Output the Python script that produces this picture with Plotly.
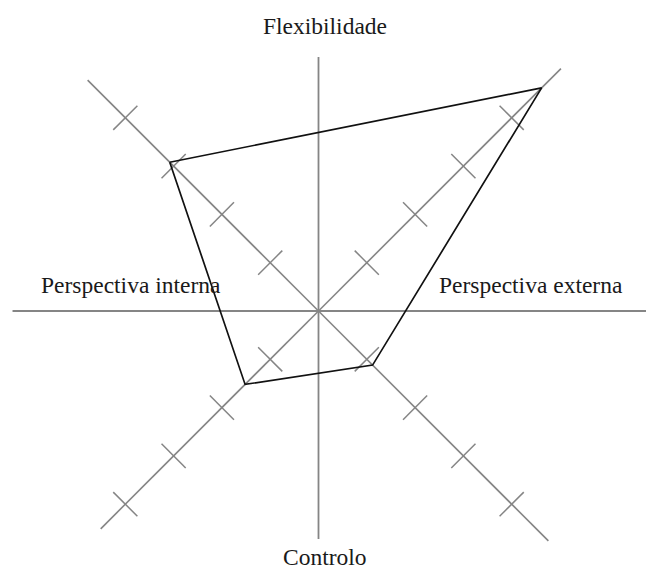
import math
import plotly.graph_objects as go

# ---- data ----
arms = ["NO", "NE", "SO", "SE"]            # diagonal arms
arm_dirs_deg = [135, 45, 225, 315]          # direction of each arm
arm_lengths = [4.78, 5.02, 4.51, 4.76]      # length of each drawn arm (tick units)
tick_values = [1, 2, 3, 4]                  # tick marks on each arm
profile_values = [3.08, 4.62, 1.52, 1.12]   # polygon vertex on each arm
axis_labels = ["Flexibilidade", "Controlo", "Perspectiva interna", "Perspectiva externa"]
vert_extent = [3.72, -3.34]                 # vertical axis top / bottom
horiz_extent = [-4.48, 5.0]                 # horizontal axis left / right

# ---- geometry helpers (page pixels; page body has an 8px margin) ----
OFF = 8
S = 68.3            # pixels per unit
CX, CY = 318.5, 311.0
W, H = 654 - OFF, 569 - OFF


def px2x(px):
    return (px - CX) / S


def px2y(py):
    return (CY - py) / S


def unit(deg):
    r = math.radians(deg)
    return math.cos(r), math.sin(r)


GRAY = "#858585"
fig = go.Figure()

# vertical and horizontal axes
fig.add_trace(go.Scatter(x=[0, 0], y=vert_extent, mode="lines",
                         line=dict(color=GRAY, width=1.8), hoverinfo="skip"))
fig.add_trace(go.Scatter(x=horiz_extent, y=[0, 0], mode="lines",
                         line=dict(color=GRAY, width=1.8), hoverinfo="skip"))

# diagonal arms
for deg, L in zip(arm_dirs_deg, arm_lengths):
    ux, uy = unit(deg)
    fig.add_trace(go.Scatter(x=[0, L * ux], y=[0, L * uy], mode="lines",
                             line=dict(color=GRAY, width=1.6), hoverinfo="skip"))

# tick marks
h = 0.25
tx, ty = [], []
for deg in arm_dirs_deg:
    ux, uy = unit(deg)
    nx, ny = -uy, ux
    for k in tick_values:
        px, py = k * ux, k * uy
        tx += [px - h * nx, px + h * nx, None]
        ty += [py - h * ny, py + h * ny, None]
fig.add_trace(go.Scatter(x=tx, y=ty, mode="lines",
                         line=dict(color=GRAY, width=1.5), hoverinfo="skip"))

# profile polygon (order NO -> NE -> SE -> SO)
order = [0, 1, 3, 2, 0]
polx, poly = [], []
for i in order:
    ux, uy = unit(arm_dirs_deg[i])
    polx.append(profile_values[i] * ux)
    poly.append(profile_values[i] * uy)
fig.add_trace(go.Scatter(x=polx, y=poly, mode="lines",
                         line=dict(color="#111111", width=1.7), hoverinfo="skip"))

# labels (positions in page pixels)
font = dict(family="Liberation Serif, Times New Roman, serif", size=23.5, color="#1a1a1a")
label_pos = [(325, 26), (325, 557), (131, 285), (531, 285)]
for txt, (lx, ly) in zip(axis_labels, label_pos):
    fig.add_annotation(x=px2x(lx), y=px2y(ly), text=txt, showarrow=False,
                       xanchor="center", yanchor="middle", font=font)

fig.update_layout(
    width=W, height=H,
    margin=dict(l=0, r=0, t=0, b=0),
    paper_bgcolor="white", plot_bgcolor="white",
    showlegend=False,
    xaxis=dict(range=[px2x(OFF), px2x(OFF + W)], visible=False, fixedrange=True),
    yaxis=dict(range=[px2y(OFF + H), px2y(OFF)], visible=False, fixedrange=True),
)

fig.write_html("out.html")
